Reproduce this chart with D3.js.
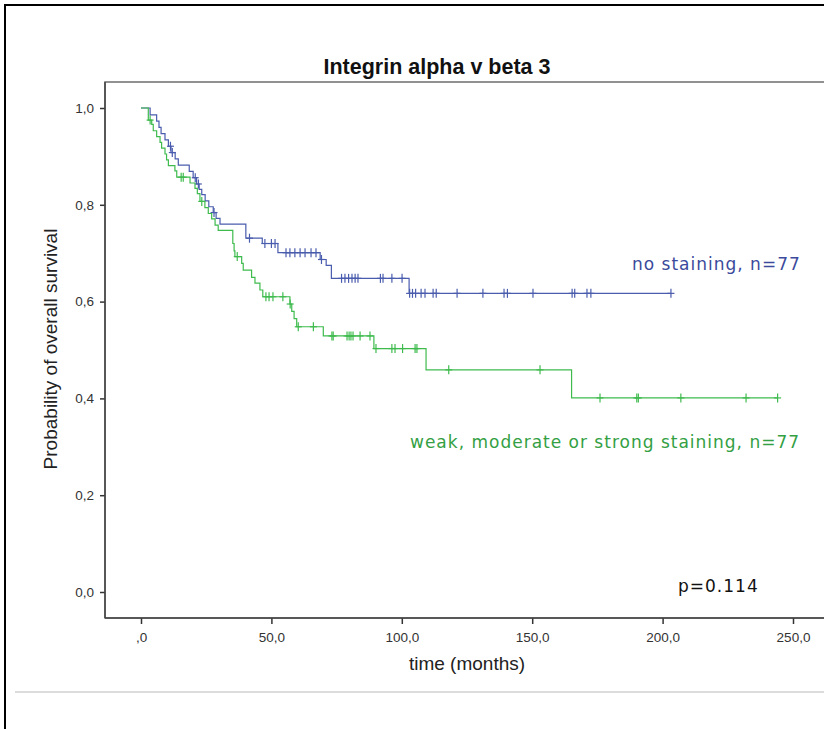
<!DOCTYPE html>
<html>
<head>
<meta charset="utf-8">
<script src="https://cdn.jsdelivr.net/npm/d3@7"></script>
<style>
  html, body { margin: 0; padding: 0; background: #fff; }
  svg { display: block; }
</style>
</head>
<body>
<svg id="chart" width="824" height="729"></svg>
<script>
// Kaplan-Meier curves: overall survival by integrin alpha v beta 3 staining

// Group 1: no staining (n=77) - step times (months) and survival after each step
const noStainTimes = [0, 3.5, 6.0, 6.9, 7.7, 9.2, 10.5, 11.5, 13.1, 14.3, 18.5, 20.0, 21.3, 22.3, 23.3,
  24.6, 26.0, 27.7, 28.8, 30.3, 40.2, 46.5, 52.5, 68.7, 71.0, 73.0, 102.8];
const noStainSurv = [1.0, 0.986, 0.973, 0.960, 0.947, 0.934, 0.921, 0.908, 0.895, 0.882, 0.869, 0.856,
  0.843, 0.832, 0.821, 0.808, 0.796, 0.784, 0.772, 0.760, 0.731, 0.720, 0.701, 0.687, 0.675, 0.648, 0.617];
const noStainCensored = [11.3, 12.0, 20.8, 22.0, 28.0, 41.6, 47.5, 50.0, 51.4, 55.6, 57.1, 59.0, 61.0, 62.9,
  65.2, 67.1, 69.2, 76.9, 78.2, 79.6, 80.9, 82.1, 83.2, 91.8, 92.8, 96.2, 100.1, 103.0, 104.1, 105.3,
  107.4, 108.9, 112.0, 113.2, 121.2, 131.1, 139.2, 140.5, 150.3, 165.3, 166.3, 171.0, 172.5, 203.2];

// Group 2: weak, moderate or strong staining (n=77)
const stainTimes = [0, 2.8, 4.1, 4.7, 6.0, 7.3, 7.9, 9.2, 9.8, 10.5, 13.0, 13.7, 18.8, 20.7, 21.6, 22.6,
  24.5, 25.8, 27.1, 28.4, 29.6, 35.2, 35.7, 36.0, 38.6, 39.2, 42.4, 43.7, 45.6, 46.7, 57.1, 57.8, 58.7,
  59.7, 69.9, 89.3, 109.3, 165.1];
const stainSurv = [1.0, 0.975, 0.966, 0.953, 0.941, 0.929, 0.917, 0.905, 0.893, 0.881, 0.870, 0.857,
  0.845, 0.834, 0.823, 0.807, 0.794, 0.782, 0.771, 0.758, 0.747, 0.720, 0.705, 0.693, 0.679, 0.665,
  0.650, 0.638, 0.624, 0.610, 0.595, 0.580, 0.565, 0.548, 0.529, 0.503, 0.459, 0.401];
const stainCensored = [3.5, 15.4, 16.2, 23.3, 36.9, 47.9, 49.1, 50.6, 54.4, 57.2, 60.3, 66.1, 73.2, 73.7,
  79.0, 79.8, 80.5, 81.3, 84.0, 87.8, 90.1, 96.2, 97.4, 100.3, 105.1, 105.8, 118.0, 153.0, 176.0,
  190.1, 190.7, 207.0, 232.0, 244.1];

const xTicks = [0, 50, 100, 150, 200, 250];
const xTickLabels = [",0", "50,0", "100,0", "150,0", "200,0", "250,0"];
const yTicks = [0, 0.2, 0.4, 0.6, 0.8, 1.0];
const yTickLabels = ["0,0", "0,2", "0,4", "0,6", "0,8", "1,0"];

const series = [
  { name: "no staining, n=77", times: noStainTimes, surv: noStainSurv, cens: noStainCensored,
    color: "#4a5cad", textColor: "#3b4a9c", label: { x: 632, y: 270 } },
  { name: "weak, moderate or strong staining, n=77", times: stainTimes, surv: stainSurv, cens: stainCensored,
    color: "#3fbb4e", textColor: "#33a043", label: { x: 410, y: 448 } }
];

const sans = "'Liberation Sans', Arial, sans-serif";
const labelFont = "'DejaVu Sans', Verdana, sans-serif";

const svg = d3.select("#chart");
svg.append("rect").attr("width", 824).attr("height", 729).attr("fill", "#fff");

// Outer page frame and separator
svg.append("line").attr("x1", 5).attr("y1", 5).attr("x2", 824).attr("y2", 5)
  .attr("stroke", "#000").attr("stroke-width", 2);
svg.append("line").attr("x1", 5).attr("y1", 4).attr("x2", 5).attr("y2", 729)
  .attr("stroke", "#000").attr("stroke-width", 2);
svg.append("line").attr("x1", 15).attr("y1", 692).attr("x2", 824).attr("y2", 692)
  .attr("stroke", "#dcdcdc").attr("stroke-width", 2);

// Plot box
const box = { left: 105, top: 82, right: 860, bottom: 618 };
const x = d3.scaleLinear().domain([0, 250]).range([141, 793]);
const y = d3.scaleLinear().domain([0, 1]).range([592, 108]);

svg.append("rect")
  .attr("x", box.left).attr("y", box.top)
  .attr("width", box.right - box.left).attr("height", box.bottom - box.top)
  .attr("fill", "none").attr("stroke", "#6e6e6e").attr("stroke-width", 1.5);

// Axes
const yAxis = d3.axisLeft(y).tickValues(yTicks)
  .tickFormat((d, i) => yTickLabels[i]).tickSize(5).tickPadding(6);
const gy = svg.append("g").attr("transform", `translate(${box.left},0)`).call(yAxis);
gy.select(".domain").remove();

const xAxis = d3.axisBottom(x).tickValues(xTicks)
  .tickFormat((d, i) => xTickLabels[i]).tickSize(6).tickPadding(8);
const gx = svg.append("g").attr("transform", `translate(0,${box.bottom})`).call(xAxis);
gx.select(".domain").remove();

[gx, gy].forEach(g => {
  g.selectAll(".tick line").attr("stroke", "#333").attr("stroke-width", 1.5);
  g.selectAll(".tick text").attr("fill", "#333")
    .style("font-family", sans).style("font-size", "13.5px");
});

// Left and bottom axis lines drawn darker over the box
svg.append("line").attr("x1", box.left).attr("y1", box.top).attr("x2", box.left).attr("y2", box.bottom)
  .attr("stroke", "#444").attr("stroke-width", 1.5);
svg.append("line").attr("x1", box.left).attr("y1", box.bottom).attr("x2", 824).attr("y2", box.bottom)
  .attr("stroke", "#444").attr("stroke-width", 1.5);

// Step function lookup for censor marks
function survAt(s, t) {
  let v = s.surv[0];
  for (let i = 0; i < s.times.length; i++) { if (s.times[i] <= t) v = s.surv[i]; }
  return v;
}

const plot = svg.append("g");
series.forEach(s => {
  const lastT = s.cens[s.cens.length - 1];
  const pts = s.times.map((t, i) => [t, s.surv[i]]);
  pts.push([lastT, s.surv[s.surv.length - 1]]);
  const line = d3.line().x(d => x(d[0])).y(d => y(d[1])).curve(d3.curveStepAfter);
  plot.append("path").datum(pts).attr("d", line)
    .attr("fill", "none").attr("stroke", s.color).attr("stroke-width", 1.2);

  const marks = plot.append("g");
  s.cens.forEach(t => {
    const cx = x(t), cy = y(survAt(s, t));
    marks.append("line").attr("x1", cx).attr("x2", cx).attr("y1", cy - 4.5).attr("y2", cy + 4.5)
      .attr("stroke", s.color).attr("stroke-width", 1.2);
    marks.append("line").attr("x1", cx - 3.5).attr("x2", cx + 3.5).attr("y1", cy).attr("y2", cy)
      .attr("stroke", s.color).attr("stroke-width", 1.2);
  });

  svg.append("text").attr("x", s.label.x).attr("y", s.label.y)
    .attr("fill", s.textColor)
    .style("font-family", labelFont).style("font-size", "17px").style("letter-spacing", "1px")
    .text(s.name);
});

svg.append("text").attr("x", 678).attr("y", 592).attr("fill", "#111")
  .style("font-family", labelFont).style("font-size", "17px").style("letter-spacing", "1px")
  .text("p=0.114");

// Titles
svg.append("text").attr("x", 437).attr("y", 74).attr("text-anchor", "middle")
  .style("font-family", sans).style("font-size", "21.5px")
  .style("font-weight", "bold").attr("fill", "#111")
  .text("Integrin alpha v beta 3");

svg.append("text").attr("x", 467).attr("y", 670).attr("text-anchor", "middle")
  .style("font-family", sans).style("font-size", "19px")
  .attr("fill", "#222").text("time (months)");

svg.append("text").attr("transform", "translate(57,349) rotate(-90)").attr("text-anchor", "middle")
  .style("font-family", sans).style("font-size", "19px")
  .attr("fill", "#222").text("Probability of overall survival");
</script>
</body>
</html>
